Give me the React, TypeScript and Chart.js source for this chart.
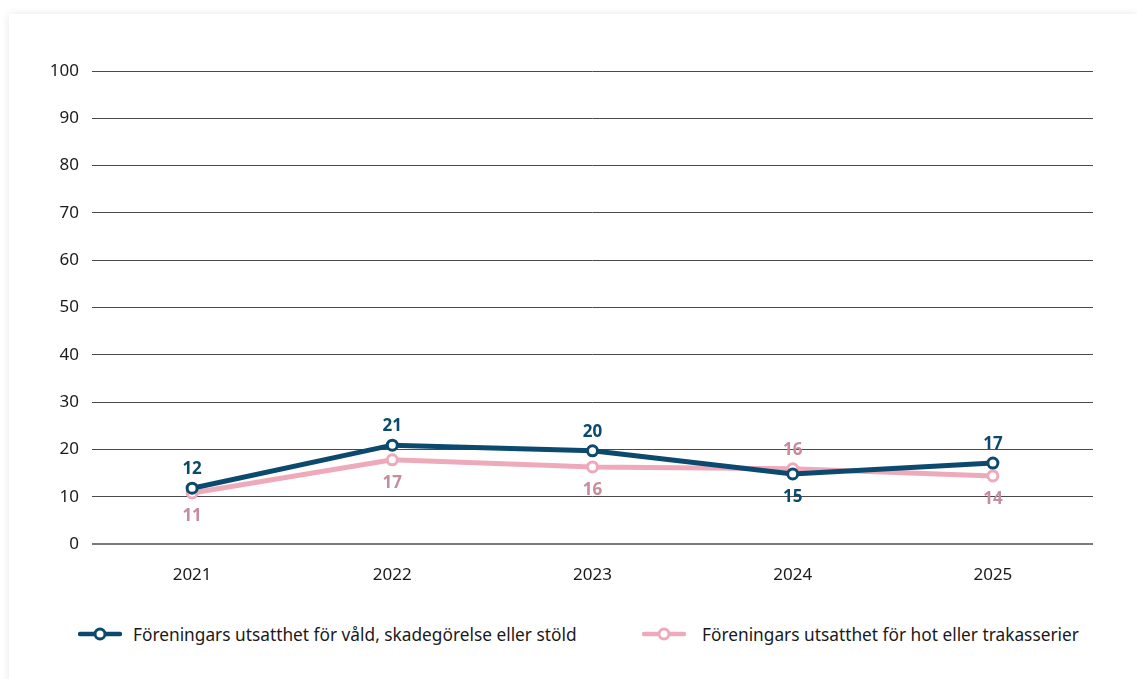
import React, { useEffect, useRef } from "react";
import { Chart, registerables } from "chart.js";

Chart.register(...registerables);

const years = ["2021", "2022", "2023", "2024", "2025"];
const valdValues = [11.8, 20.9, 19.7, 14.8, 17.1];
const hotValues = [10.8, 17.8, 16.3, 15.9, 14.4];
const valdLabels = ["12", "21", "20", "15", "17"];
const hotLabels = ["11", "17", "16", "16", "14"];
const seriesNames = [
  "Föreningars utsatthet för våld, skadegörelse eller stöld",
  "Föreningars utsatthet för hot eller trakasserier",
];
const yTicks = [0, 10, 20, 30, 40, 50, 60, 70, 80, 90, 100];

const BLUE = "#0b4a6e";
const PINK = "#eeaabb";
const PINK_TEXT = "#c68c9c";
const FONT = "'Noto Sans', sans-serif";

const labelPlugin = {
  id: "pointLabels",
  afterDatasetsDraw(chart: any) {
    const ctx = chart.ctx;
    const sets = chart.data.datasets;
    ctx.save();
    ctx.font = `bold 17px ${FONT}`;
    ctx.textAlign = "center";
    ctx.textBaseline = "middle";
    sets.forEach((ds: any, di: number) => {
      const meta = chart.getDatasetMeta(di);
      const other = sets[1 - di];
      meta.data.forEach((pt: any, i: number) => {
        const above = ds.data[i] >= other.data[i];
        ctx.fillStyle = ds.labelColor;
        const y = above ? pt.y - 19 : pt.y + 23;
        ctx.fillText(ds.valueLabels[i], pt.x, y);
      });
    });
    ctx.restore();
  },
};

function LegendIcon({ color }: { color: string }) {
  return (
    <svg width="44" height="14" style={{ display: "block" }}>
      <line x1="2" y1="7" x2="42" y2="7" stroke={color} strokeWidth="4.5" strokeLinecap="round" />
      <circle cx="22" cy="7" r="5" fill="#fff" stroke={color} strokeWidth="3" />
    </svg>
  );
}

export default function App() {
  const ref = useRef<HTMLCanvasElement>(null);

  useEffect(() => {
    if (!ref.current) return;
    const chart = new Chart(ref.current, {
      type: "line",
      data: {
        labels: years,
        datasets: [
          {
            label: seriesNames[0],
            data: valdValues,
            borderColor: BLUE,
            backgroundColor: "#fff",
            borderWidth: 5,
            pointRadius: 5,
            pointBorderWidth: 3,
            pointBackgroundColor: "#fff",
            pointBorderColor: BLUE,
            tension: 0,
            labelColor: BLUE,
            valueLabels: valdLabels,
          } as any,
          {
            label: seriesNames[1],
            data: hotValues,
            borderColor: PINK,
            backgroundColor: "#fff",
            borderWidth: 5,
            pointRadius: 5,
            pointBorderWidth: 3,
            pointBackgroundColor: "#fff",
            pointBorderColor: PINK,
            tension: 0,
            labelColor: PINK_TEXT,
            valueLabels: hotLabels,
          } as any,
        ],
      },
      options: {
        animation: false,
        responsive: false,
        maintainAspectRatio: false,
        layout: { padding: { top: 57, right: 44, left: 0, bottom: 0 } },
        plugins: { legend: { display: false }, tooltip: { enabled: false } },
        scales: {
          x: {
            offset: true,
            grid: { display: false, drawTicks: false },
            border: { display: false },
            ticks: { color: "#1a1a1a", font: { family: FONT, size: 17 }, padding: 21 },
            afterFit: (s: any) => {
              s.height = 50;
            },
          },
          y: {
            min: 0,
            max: 100,
            afterBuildTicks: (s: any) => {
              s.ticks = yTicks.map((v) => ({ value: v }));
            },
            grid: {
              drawTicks: false,
              color: (c: any) => (c.tick && c.tick.value === 0 ? "#7a7a7a" : "#4a4a4a"),
              lineWidth: (c: any) => (c.tick && c.tick.value === 0 ? 2 : 1),
            },
            border: { display: false },
            ticks: { color: "#1a1a1a", font: { family: FONT, size: 17 }, padding: 13 },
            afterFit: (s: any) => {
              s.width = 83;
            },
          },
        },
      },
      plugins: [labelPlugin],
    });
    return () => chart.destroy();
  }, []);

  return (
    <div
      style={{
        position: "absolute",
        left: 9,
        top: 14,
        width: 1128,
        height: 680,
        background: "#fff",
        boxShadow: "0 0 8px rgba(0,0,0,0.10)",
        fontFamily: FONT,
      }}
    >
      <canvas ref={ref} width={1128} height={580} style={{ display: "block" }} />
      <div style={{ position: "absolute", left: 69, top: 610, height: 20, display: "flex", alignItems: "center" }}>
        <LegendIcon color={BLUE} />
        <span style={{ marginLeft: 11, fontSize: 17.3, color: "#1a1a1a" }}>{seriesNames[0]}</span>
      </div>
      <div style={{ position: "absolute", left: 633, top: 610, height: 20, display: "flex", alignItems: "center" }}>
        <LegendIcon color={PINK} />
        <span style={{ marginLeft: 16, fontSize: 17.3, color: "#1a1a1a" }}>{seriesNames[1]}</span>
      </div>
    </div>
  );
}
